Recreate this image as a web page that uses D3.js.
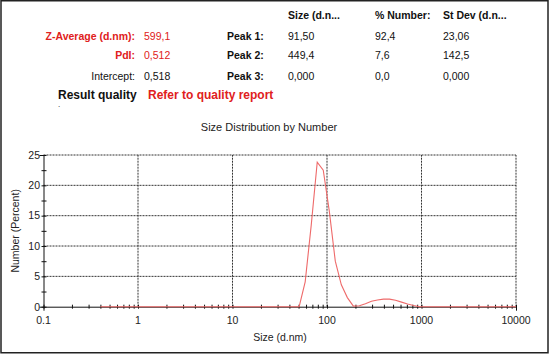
<!DOCTYPE html>
<html>
<head>
<meta charset="utf-8">
<script src="https://cdn.jsdelivr.net/npm/d3@7"></script>
<style>
  body { margin: 0; background: #fff; }
  text { font-family: "Liberation Sans", Arial, sans-serif; }
</style>
</head>
<body>
<div id="chart"></div>
<script>
// Tabla de resultados
const headers = ['Size (d.n...', '% Number:', 'St Dev (d.n...'];
const peakLabels = ['Peak 1:', 'Peak 2:', 'Peak 3:'];
const peakSizes = ['91,50', '449,4', '0,000'];
const peakNumbers = ['92,4', '7,6', '0,0'];
const peakStDevs = ['23,06', '142,5', '0,000'];
const summaryLabels = ['Z-Average (d.nm):', 'PdI:', 'Intercept:'];
const summaryValues = ['599,1', '0,512', '0,518'];

// Distribucion por numero (bins de tamaño, d.nm)
const sizes = [0.4, 0.4632, 0.5365, 0.6213, 0.7195, 0.8332, 0.965, 1.117, 1.294, 1.499,
  1.736, 2.01, 2.328, 2.696, 3.122, 3.615, 4.187, 4.849, 5.615, 6.503,
  7.531, 8.721, 10.1, 11.7, 13.54, 15.69, 18.17, 21.04, 24.36, 28.21,
  32.67, 37.84, 43.82, 50.75, 58.77, 68.06, 78.82, 91.28, 105.7, 122.4,
  141.8, 164.2, 190.1, 220.2, 255.0, 295.3, 342.0, 396.1, 458.7, 531.2,
  615.1, 712.4, 825.0, 955.4, 1106, 1281, 1484, 1718, 1990, 2305,
  2669, 3091, 3580, 4145, 4801, 5560, 6439, 7456, 8635, 10000];
const numberPct = [0, 0, 0, 0, 0, 0, 0, 0, 0, 0,
  0, 0, 0, 0, 0, 0, 0, 0, 0, 0,
  0, 0, 0, 0, 0, 0, 0, 0, 0, 0,
  0, 0, 0, 0, 4.1, 13.4, 23.8, 22.5, 15.8, 7.5,
  3.6, 1.5, 0.1, 0.15, 0.5, 0.9, 1.1, 1.25, 1.25, 1.05,
  0.75, 0.45, 0.2, 0, 0, 0, 0, 0, 0, 0,
  0, 0, 0, 0, 0, 0, 0, 0, 0, 0];
const xTicks = [0.1, 1, 10, 100, 1000, 10000];
const xTickLabels = ['0.1', '1', '10', '100', '1000', '10000'];
const yTicks = [0, 5, 10, 15, 20, 25];

const width = 549;
const height = 354;
const margin = { left: 43.5, right: 33, top: 155, bottom: 47.3 };

const svg = d3.select('#chart').append('svg')
  .attr('width', width)
  .attr('height', height);

// Marco exterior
svg.append('rect')
  .attr('x', 1).attr('y', 0.75)
  .attr('width', width - 2).attr('height', height - 2)
  .attr('fill', 'none')
  .attr('stroke', '#222')
  .attr('stroke-width', 1.5);

// Cabecera
const fs = 10.5;
const colX = [288, 375, 443];
const rowY = [19, 40, 59, 80];

const head = svg.append('g').attr('class', 'cabecera').attr('font-size', fs);
headers.forEach((h, i) => {
  head.append('text').attr('x', colX[i]).attr('y', rowY[0])
    .attr('font-weight', 'bold').attr('fill', '#111').text(h);
});
summaryLabels.forEach((l, i) => {
  const red = i < 2;
  head.append('text').attr('x', 135).attr('y', rowY[i + 1])
    .attr('text-anchor', 'end')
    .attr('font-weight', i < 2 ? 'bold' : 'normal')
    .attr('fill', red ? '#e02020' : '#111').text(l);
  head.append('text').attr('x', 144).attr('y', rowY[i + 1])
    .attr('fill', red ? '#e02020' : '#111').text(summaryValues[i]);
});
peakLabels.forEach((l, i) => {
  head.append('text').attr('x', 227).attr('y', rowY[i + 1])
    .attr('font-weight', 'bold').attr('fill', '#111').text(l);
  [peakSizes[i], peakNumbers[i], peakStDevs[i]].forEach((v, j) => {
    head.append('text').attr('x', colX[j]).attr('y', rowY[i + 1])
      .attr('fill', '#111').text(v);
  });
});
head.append('text').attr('x', 58).attr('y', 98.5)
  .attr('font-size', 12).attr('font-weight', 'bold').attr('fill', '#111')
  .text('Result quality');
head.append('text').attr('x', 148).attr('y', 98.5)
  .attr('font-size', 12).attr('font-weight', 'bold').attr('fill', '#e02020')
  .text('Refer to quality report');
head.append('text').attr('x', 58).attr('y', 107)
  .attr('font-size', 8).attr('fill', '#111').text('.');

// Escalas
const x = d3.scaleLog()
  .domain([0.1, 10000])
  .range([margin.left, width - margin.right]);
const y = d3.scaleLinear()
  .domain([0, 25])
  .range([height - margin.bottom, margin.top]);

// Titulo
svg.append('text')
  .attr('x', 269).attr('y', 131)
  .attr('text-anchor', 'middle')
  .attr('font-size', 11).attr('fill', '#222')
  .text('Size Distribution by Number');

// Rejilla
const grid = svg.append('g').attr('class', 'grid')
  .attr('stroke', '#333').attr('stroke-width', 1)
  .attr('stroke-dasharray', '2,1');
grid.selectAll('.hg').data(yTicks.slice(1)).enter().append('line')
  .attr('x1', x(0.1)).attr('x2', x(10000))
  .attr('y1', d => y(d)).attr('y2', d => y(d));
grid.selectAll('.vg').data(xTicks.slice(1)).enter().append('line')
  .attr('x1', d => x(d)).attr('x2', d => x(d))
  .attr('y1', y(0)).attr('y2', y(25));

// Ejes
const minorX = [];
for (let e = -1; e < 4; e++) {
  for (let k = 1; k < 10; k++) minorX.push(k * Math.pow(10, e));
}
minorX.push(10000);
const xAxis = svg.append('g')
  .attr('transform', `translate(0, ${y(0)})`)
  .call(d3.axisBottom(x).tickValues(minorX).tickSize(4).tickFormat(''));
xAxis.select('.domain').attr('stroke', '#111');
xAxis.selectAll('.tick line').attr('y1', -2).attr('y2', 2).attr('stroke', '#111');

const yMinor = d3.range(0, 25.01, 2.5);
const yAxis = svg.append('g')
  .attr('transform', `translate(${x(0.1)}, 0)`)
  .call(d3.axisLeft(y).tickValues(yMinor).tickSize(4).tickFormat(''));
yAxis.select('.domain').attr('stroke', '#111');
yAxis.selectAll('.tick line').attr('x1', -2).attr('x2', 3).attr('stroke', '#111');

// Etiquetas de ticks
svg.selectAll('.xlab').data(xTicks).enter().append('text')
  .attr('x', d => x(d)).attr('y', 324)
  .attr('text-anchor', 'middle')
  .attr('font-size', 10.5).attr('fill', '#222')
  .text((d, i) => xTickLabels[i]);
svg.selectAll('.ylab').data(yTicks).enter().append('text')
  .attr('x', 40).attr('y', d => y(d) + 3.8)
  .attr('text-anchor', 'end')
  .attr('font-size', 10.5).attr('fill', '#222')
  .text(d => d);

// Titulos de ejes
svg.append('text')
  .attr('x', 280).attr('y', 340.5)
  .attr('text-anchor', 'middle')
  .attr('font-size', 10.5).attr('fill', '#222')
  .text('Size (d.nm)');
svg.append('text')
  .attr('transform', `translate(18.5, ${(y(0) + y(25)) / 2}) rotate(-90)`)
  .attr('text-anchor', 'middle')
  .attr('font-size', 10.5).attr('fill', '#222')
  .text('Number (Percent)');

// Curva
const line = d3.line()
  .x((d, i) => x(sizes[i]))
  .y(d => y(d));
svg.append('path')
  .datum(numberPct)
  .attr('d', line)
  .attr('fill', 'none')
  .attr('stroke', '#ee6a6a')
  .attr('stroke-width', 1.1);
</script>
</body>
</html>
